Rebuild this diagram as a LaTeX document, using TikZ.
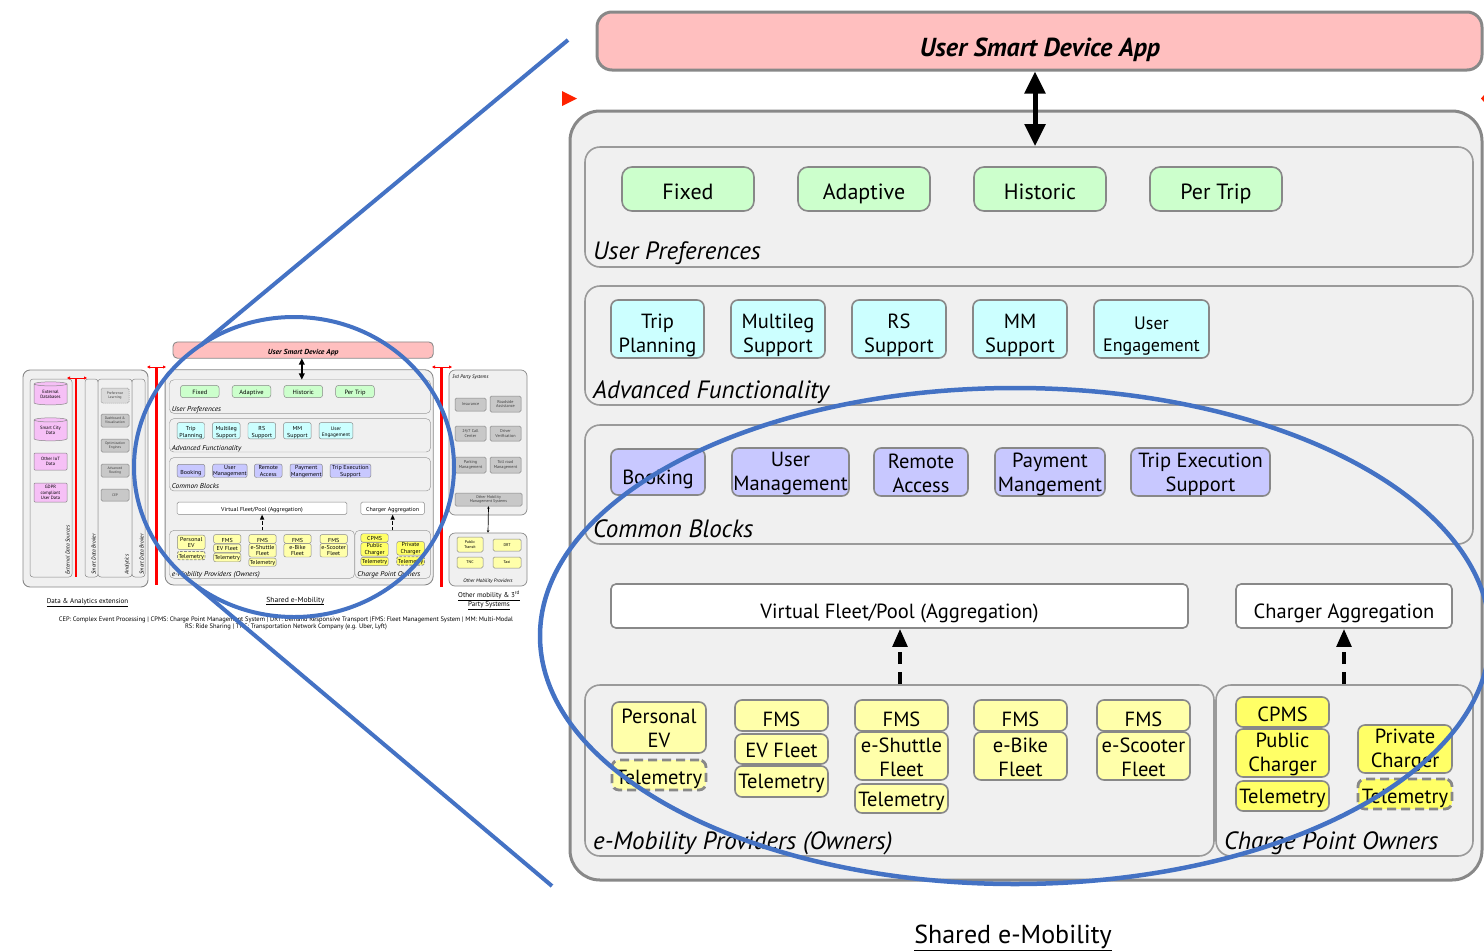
\documentclass[tikz,border=0pt]{standalone}
\usepackage{fontspec}
\setmainfont{PT Sans}
\usetikzlibrary{arrows.meta,shapes.geometric}
\definecolor{bord}{HTML}{888888}
\definecolor{panelfill}{HTML}{F0F0F0}
\definecolor{appfill}{HTML}{FFBFBF}
\definecolor{gfill}{HTML}{CCFFCC}
\definecolor{cfill}{HTML}{CCFFFF}
\definecolor{pfill}{HTML}{C8C8FF}
\definecolor{yfill}{HTML}{FFFFAA}
\definecolor{yfillB}{HTML}{FFFF66}
\definecolor{zblue}{HTML}{4472C4}
\definecolor{grayfill}{HTML}{C8C8C8}
\definecolor{lgrayfill}{HTML}{DADADA}
\definecolor{pinkfill}{HTML}{F6C0F6}
\definecolor{arrred}{HTML}{FF2200}
\newcommand\myfs[2]{\fontsize{#1}{#2}\selectfont}
% box with text: [text shift]{name}{style}{x1}{y1}{x2}{y2}{text}
\newcommand\mkbox[8][0pt]{%
\node[#3,minimum width={(#6-#4)*1pt},minimum height={(#7-#5)*1pt}] (#2) at ({(#4+#6)/2},{(#5+#7)/2}) {};
\node[#3,draw=none,fill=none,minimum width=0pt,minimum height=0pt,yshift=#1] (#2-t) at (#2.center) {#8};}
% box without text
\newcommand\mkpanel[6]{%
\node[#2,minimum width={(#5-#3)*1pt},minimum height={(#6-#4)*1pt}] (#1) at ({(#3+#5)/2},{(#4+#6)/2}) {};}
\newcommand\drawcore{%
\pgfmathsetmacro\LWa{3*\lwf}%
\pgfmathsetmacro\LWb{1.6*\lwf}%
\pgfmathsetmacro\LWc{5*\lwf}%
\pgfmathsetmacro\LWd{4*\lwf}%
\pgfmathsetmacro\LWe{2.8*\lwf}%
\pgfmathsetmacro\RA{30*\lwf}%
\pgfmathsetmacro\RB{15*\lwf}%
\pgfmathsetmacro\RC{10*\lwf}%
\pgfmathsetmacro\RD{7*\lwf}%
\pgfmathsetmacro\RE{5*\lwf}%
\pgfmathsetmacro\DA{12*\lwf}%
\pgfmathsetmacro\DB{8*\lwf}%
\pgfmathsetmacro\DC{9*\lwf}%
\pgfmathsetmacro\DD{5*\lwf}%
\tikzset{
  outerbox/.style={draw=bord,line width=\LWa pt,fill=panelfill,rounded corners=\RA pt,inner sep=0pt},
  appbox/.style={draw=bord,line width=\LWa pt,fill=appfill,rounded corners=\RB pt,inner sep=0pt},
  panel/.style={draw=bord!85,line width=\LWb pt,fill=panelfill,rounded corners=\RB pt,inner sep=0pt},
  bx/.style={draw=bord,line width=\LWb pt,inner sep=0pt,align=center,rounded corners=\RD pt,font=\myfs{20.5}{24}},
  gbox/.style={bx,fill=gfill,rounded corners=\RC pt,font=\myfs{22}{24},text depth=0.22em},
  cbox/.style={bx,fill=cfill},
  pbox/.style={bx,fill=pfill},
  wbox/.style={bx,fill=white,rounded corners=\RE pt},
  ybox/.style={bx,fill=yfill},
  yboxb/.style={bx,fill=yfillB},
  dashbox/.style={line width=\LWe pt,dash pattern=on \DC pt off \DD pt},
  plabel/.style={font=\myfs{25}{28}\itshape,anchor=base west,inner sep=0pt},
  bigarrow/.style={line width=\LWc pt,{Triangle[length=0pt 4.4,width=0pt 4]}-{Triangle[length=0pt 4.4,width=0pt 4]}},
  dasharrow/.style={line width=\LWd pt,dash pattern=on \DA pt off \DB pt,-{Triangle[length=0pt 4.5,width=0pt 3.6]}},
}%
\mkpanel{outer}{outerbox}{570}{111}{1482}{880}
\mkpanel{app}{appbox}{597}{12}{1482}{70}
\node[anchor=base,inner sep=0pt,font=\myfs{26}{30}\bfseries\itshape] (apptxt) at (1040,56) {User Smart Device App};
\mkpanel{up}{panel}{585}{147}{1473}{267}
\mkpanel{af}{panel}{585}{286}{1473}{405}
\mkpanel{cb}{panel}{585}{425}{1473}{544}
\mkpanel{em}{panel}{585}{685}{1214}{856}
\mkpanel{cpo}{panel}{1216}{685}{1473}{856}
\node[plabel] (uplbl) at (593,259) {User Preferences};
\node[plabel] (aflbl) at (593,398) {Advanced Functionality};
\node[plabel] (cblbl) at (593,537) {Common Blocks};
\node[plabel] (emlbl) at (593,849) {e-Mobility Providers (Owners)};
\node[plabel] (cpolbl) at (1224,849) {Charge Point Owners};
\mkbox[-3.5pt]{fixed}{gbox}{622}{167}{754}{211}{Fixed}
\mkbox[-3.5pt]{adapt}{gbox}{798}{167}{930}{211}{Adaptive}
\mkbox[-3.5pt]{hist}{gbox}{974}{167}{1106}{211}{Historic}
\mkbox[-3.5pt]{pertrip}{gbox}{1150}{167}{1282}{211}{Per Trip}
\mkbox[-6pt]{tp}{cbox}{611}{300}{704}{358}{Trip\\Planning}
\mkbox[-6pt]{ml}{cbox}{731}{300}{825}{358}{Multileg\\Support}
\mkbox[-6pt]{rs}{cbox}{852}{300}{946}{358}{RS\\Support}
\mkbox[-6pt]{mm}{cbox}{973}{300}{1067}{358}{MM\\Support}
\mkbox[-7pt]{ue}{cbox,font=\myfs{18}{22}}{1094}{300}{1209}{358}{User\\Engagement}
\mkbox[-7pt]{book}{pbox}{611}{449}{705}{495}{Booking}
\mkbox[-1pt]{um}{pbox}{732}{448}{849}{496}{User\\Management}
\mkbox[-1pt]{ra}{pbox}{874}{448}{968}{496}{Remote\\Access}
\mkbox[-2pt]{pm}{pbox}{995}{448}{1105}{496}{Payment\\Mangement}
\mkbox[-2pt]{tes}{pbox}{1131}{448}{1270}{496}{Trip Execution\\Support}
\mkbox[-7pt]{vf}{wbox}{611}{584}{1188}{628}{Virtual Fleet/Pool (Aggregation)}
\mkbox[-7pt]{ca}{wbox}{1236}{584}{1452}{628}{Charger Aggregation}
\mkbox[-1pt]{pev}{ybox}{612}{702}{706}{753}{Personal\\EV}
\mkbox[-4pt]{pevt}{ybox,dashbox}{612}{760}{706}{790}{Telemetry}
\mkbox[-4pt]{fmsa}{ybox}{735}{700}{828}{731}{FMS}
\mkbox[-1pt]{evf}{ybox}{735}{734}{828}{764}{EV Fleet}
\mkbox[-2pt]{tela}{ybox}{735}{766}{828}{797}{Telemetry}
\mkbox[-4pt]{fmsb}{ybox}{855}{700}{948}{731}{FMS}
\mkbox[-1pt]{esh}{ybox}{855}{732}{948}{780}{e-Shuttle\\Fleet}
\mkbox[-3pt]{telb}{ybox}{855}{784}{948}{813}{Telemetry}
\mkbox[-4pt]{fmsc}{ybox}{974}{700}{1067}{731}{FMS}
\mkbox[-1pt]{ebk}{ybox}{974}{732}{1067}{780}{e-Bike\\Fleet}
\mkbox[-4pt]{fmsd}{ybox}{1097}{700}{1190}{731}{FMS}
\mkbox[-1pt]{esc}{ybox}{1097}{732}{1190}{780}{e-Scooter\\Fleet}
\mkbox[-2pt]{cpms}{yboxb}{1236}{697}{1329}{727}{CPMS}
\mkbox[-1pt]{pub}{yboxb}{1236}{729}{1329}{777}{Public\\Charger}
\mkbox[-2pt]{telc}{yboxb}{1236}{781}{1329}{811}{Telemetry}
\mkbox[-1pt]{prv}{yboxb}{1358}{725}{1452}{773}{Private\\Charger}
\mkbox[-4pt]{teld}{yboxb,dashbox}{1358}{779}{1452}{809}{Telemetry}
\coordinate (axA) at (1035,0);
\coordinate (axB) at (900,0);
\coordinate (axC) at (1344,0);
\draw[bigarrow] (axA |- app.south) -- (axA |- up.north);
\draw[dasharrow] (axB |- em.north) -- (axB |- vf.south);
\draw[dasharrow] (axC |- cpo.north) -- (axC |- ca.south);
\node[anchor=base,inner sep=0pt,font=\myfs{26}{30}] (cap) at (1013,943) {\underline{Shared e-Mobility}};
}
\begin{document}
\begin{tikzpicture}[x=1pt,y=-1pt]
\useasboundingbox (0,0) rectangle (1484,951);
\clip (0,0) rectangle (1484,951);
\fill[white] (0,0) rectangle (1484,951);
\tikzset{
  tpanel/.style={draw=bord,line width=0.5pt,fill=panelfill,rounded corners=3pt,inner sep=0pt},
  tgray/.style={draw=bord,line width=0.5pt,fill=grayfill,rounded corners=1.5pt,inner sep=0pt,align=center,font=\myfs{3.6}{4.2},text=black!75},
  tpink/.style={draw=bord,line width=0.5pt,fill=pinkfill,rounded corners=1pt,inner sep=0pt,align=center,font=\myfs{4.6}{5.3}},
  tyel/.style={draw=bord,line width=0.5pt,fill=yfill,rounded corners=1.5pt,inner sep=0pt,align=center,font=\myfs{4}{4.6}},
  tvlabel/.style={rotate=90,inner sep=0pt,font=\myfs{5.5}{6}\itshape},
  redarrow/.style={draw=red,line width=0.9pt,{Triangle[length=3pt,width=3pt]}-{Triangle[length=3pt,width=3pt]}},
}
% ---------- big view ----------
\begin{scope}
\def\lwf{1}
\drawcore
\end{scope}
\fill[arrred] (562,91) -- (577,98.5) -- (562,106) -- cycle;
\fill[arrred] (1484,95) -- (1481,98.5) -- (1484,102) -- cycle;
% ---------- thumbnail: shared e-mobility ----------
\begin{scope}[shift={(-2.5,338.6)},xscale=0.294,yscale=0.28,transform shape,name prefix=t-]
\def\lwf{0.29}
\drawcore
\end{scope}
% ---------- thumbnail: data & analytics ----------
\mkpanel{da}{tpanel,line width=0.9pt,rounded corners=7pt}{23}{370}{148}{587}
\mkpanel{eds}{tpanel}{30}{379}{72}{577}
\mkpanel{sdba}{tpanel}{85}{379}{98}{577}
\mkpanel{ana}{tpanel}{98}{379}{132}{577}
\mkpanel{sdbb}{tpanel}{132}{379}{145}{577}
\node[tvlabel,anchor=south west] (edsl) at (70,575) {External Data Sources};
\node[tvlabel,anchor=south west] (sdbal) at (96,575) {Smart Data Broker};
\node[tvlabel,anchor=south west] (anal) at (130,575) {Analytics};
\node[tvlabel,anchor=south west] (sdbbl) at (144,575) {Smart Data Broker};
\node[cylinder,shape border rotate=90,aspect=0.2,draw=bord,line width=0.5pt,fill=pinkfill,minimum width=33pt,minimum height=23pt,inner sep=0pt,align=center,font=\myfs{4.6}{5.3}] (extdb) at (50.5,394.5) {External\\Databases};
\node[cylinder,shape border rotate=90,aspect=0.2,draw=bord,line width=0.5pt,fill=pinkfill,minimum width=33pt,minimum height=23pt,inner sep=0pt,align=center,font=\myfs{4.6}{5.3}] (scd) at (50.5,430.5) {Smart City\\Data};
\mkbox{iot}{tpink}{34}{453}{67}{470}{Other IoT\\Data}
\mkbox{gdpr}{tpink}{34}{483}{67}{502}{GDPR\\compliant\\User Data}
\mkbox{pl}{tgray,fill=lgrayfill,dash pattern=on 1.2pt off 0.8pt}{101}{388}{129}{403}{Preference\\Learning}
\mkbox{dv}{tgray}{101}{414}{129}{427}{Dashboard \&\\Visualisation}
\mkbox{oe}{tgray}{101}{439}{129}{452}{Optimization\\Engines}
\mkbox{ar}{tgray}{101}{464}{129}{477}{Advanced\\Routing}
\mkbox{cep}{tgray}{101}{489}{129}{501}{CEP}
\coordinate (rda) at (76,378);
\coordinate (rdb) at (76,577);
\coordinate (rdl) at (67,378);
\coordinate (rdr) at (87,378);
\draw[red,line width=2.6pt] (rda) -- (rdb);
\draw[redarrow] (rdl) -- (rdr);
% red separators of the shared e-mobility section
\coordinate (rsa) at (156.5,367);
\coordinate (rsb) at (156.5,585);
\coordinate (rsl) at (147,367);
\coordinate (rsr) at (166,367);
\draw[red,line width=2.6pt] (rsa) -- (rsb);
\draw[redarrow] (rsl) -- (rsr);
\coordinate (rta) at (441.5,367);
\coordinate (rtb) at (441.5,587);
\coordinate (rtl) at (432,367);
\coordinate (rtr) at (452,367);
\draw[red,line width=2.6pt] (rta) -- (rtb);
\draw[redarrow] (rtl) -- (rtr);
% ---------- thumbnail: 3rd party ----------
\mkpanel{tps}{tpanel,line width=0.7pt,rounded corners=6pt}{449}{370}{527}{515}
\node[anchor=base west,inner sep=0pt,font=\myfs{5}{6}\itshape] (tpsl) at (452,378) {3rd Party Systems};
\mkbox{ins}{tgray,font=\myfs{4.2}{4.8}}{455}{398}{486}{411}{Insurance}
\mkbox{rsa2}{tgray,font=\myfs{4.2}{4.8}}{490}{396}{521}{412}{Roadside\\Assistance}
\mkbox{call}{tgray,font=\myfs{4.2}{4.8}}{455}{426}{486}{441}{24/7 Call\\Center}
\mkbox{drv}{tgray,font=\myfs{4.2}{4.8}}{490}{426}{521}{441}{Driver\\Verification}
\mkbox{park}{tgray,font=\myfs{4.2}{4.8}}{455}{457}{486}{473}{Parking\\Management}
\mkbox{toll}{tgray,font=\myfs{4.2}{4.8}}{490}{457}{521}{473}{Toll road\\Management}
\mkbox{omms}{tgray,font=\myfs{4}{4.6}}{455}{493}{522}{506}{Other Mobility\\Management Systems}
\mkpanel{omp}{tpanel,line width=0.7pt,rounded corners=6pt}{449}{533}{527}{586}
\node[anchor=base,inner sep=0pt,font=\myfs{5}{6}\itshape] (ompl) at (488,582) {Other Mobility Providers};
\mkbox{ptr}{tyel}{457}{537}{483}{552}{Public\\Transit}
\mkbox{drt}{tyel}{493}{539}{521}{551}{DRT}
\mkbox{tnc}{tyel}{457}{557}{483}{568}{TNC}
\mkbox{taxi}{tyel}{493}{557}{521}{568}{Taxi}
\draw[line width=0.7pt,{Stealth[length=2.5pt,width=2.5pt]}-{Stealth[length=2.5pt,width=2.5pt]}] (omms.south) -- (omp.north);
% ---------- captions ----------
\node[anchor=base,inner sep=0pt,font=\myfs{7}{8}] (capda) at (87.5,603) {\underline{Data \& Analytics extension}};
\node[anchor=base,inner sep=0pt,font=\myfs{7}{8},align=center] (capom) at (489,606) {\underline{Other mobility \& 3\textsuperscript{rd}}\\[-0.5pt]\underline{Party Systems}};
\node[anchor=base,inner sep=0pt,font=\myfs{6.5}{7}] (fna) at (286,621) {CEP: Complex Event Processing | CPMS: Charge Point Management System | DRT: Demand Responsive Transport |FMS: Fleet Management System | MM: Multi-Modal};
\node[anchor=base,inner sep=0pt,font=\myfs{6.5}{7}] (fnb) at (286,628) {RS: Ride Sharing | TNC: Transportation Network Company (e.g. Uber, Lyft)};
% ---------- blue zoom callout ----------
\coordinate (za) at (568,40);
\coordinate (zb) at (201,345);
\coordinate (zc) at (552,886);
\coordinate (zd) at (195,585);
\draw[zblue,line width=4pt] (294,467) ellipse [x radius=160, y radius=150];
\draw[zblue,line width=4pt] (za) -- (zb);
\draw[zblue,line width=4pt] (zc) -- (zd);
\draw[zblue,line width=4.5pt] (1015,636) ellipse [x radius=475, y radius=248];
\end{tikzpicture}
\end{document}
